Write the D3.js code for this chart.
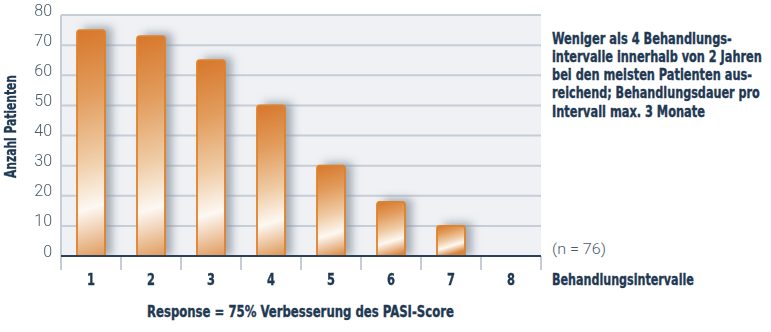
<!DOCTYPE html>
<html>
<head>
<meta charset="utf-8">
<script src="https://cdn.jsdelivr.net/npm/d3@7"></script>
<style>
  html, body { margin: 0; padding: 0; background: #ffffff; }
  svg { display: block; }
  .bold { font-family: "DejaVu Sans Condensed", "DejaVu Sans", sans-serif; font-weight: bold; fill: #1f3953; stroke: #1f3953; stroke-width: 0.35px; }
  .light { font-family: Roboto, "DejaVu Sans", sans-serif; font-weight: 300; fill: #4a5b6b; }
</style>
</head>
<body>
<svg id="chart" width="771" height="332"></svg>
<script>
// Number of patients per count of treatment intervals
const categories = ["1", "2", "3", "4", "5", "6", "7", "8"];
const patients = [75, 73, 65, 50, 30, 18, 10, 0];
const yTicks = [0, 10, 20, 30, 40, 50, 60, 70, 80];
const yTitle = "Anzahl Patienten";
const xTitle = "Response = 75% Verbesserung des PASI-Score";
const xSideLabel = "Behandlungsintervalle";
const sampleNote = "(n = 76)";
const noteLines = [
  "Weniger als 4 Behandlungs-",
  "intervalle innerhalb von 2 Jahren",
  "bei den meisten Patienten aus-",
  "reichend; Behandlungsdauer pro",
  "Intervall max. 3 Monate"
];
// set widths for the condensed captions
const noteWidths = [180, 210, 200, 208, 153];

const svg = d3.select("#chart");
const plot = { left: 61, right: 541, top: 15, bottom: 256 };

// squeeze a text horizontally to a given width; (x, y) is its anchor point
function condensed(parent, str, cls, size, x, y, width, angle = 0, anchor = "start") {
  const t = parent.append("text")
    .attr("class", cls)
    .attr("font-size", size)
    .attr("text-anchor", anchor)
    .text(str);
  const natural = t.node().getComputedTextLength();
  const k = width / natural;
  t.attr("transform", `translate(${x},${y}) rotate(${angle}) scale(${k},1)`);
  return t;
}

const x = d3.scaleBand()
  .domain(categories)
  .range([plot.left, plot.right])
  .paddingInner(32 / 60)
  .paddingOuter(16 / 60);

// boundaries between categories, for the tick marks under the axis
const xEdges = d3.scaleLinear().domain([0, categories.length]).range([plot.left, plot.right]);

const y = d3.scaleLinear().domain([0, 80]).range([plot.bottom, plot.top]);

const defs = svg.append("defs");

const blur = defs.append("filter").attr("id", "shade")
  .attr("x", "-50%").attr("y", "-20%").attr("width", "200%").attr("height", "140%");
blur.append("feGaussianBlur").attr("stdDeviation", 4.5);

// plot background
svg.append("rect")
  .attr("x", plot.left).attr("y", plot.top)
  .attr("width", plot.right - plot.left).attr("height", plot.bottom - plot.top)
  .attr("fill", "#eff1f4");

// horizontal grid
svg.append("g").selectAll("line")
  .data(yTicks.filter(d => d > 0))
  .join("line")
  .attr("x1", plot.left).attr("x2", plot.right)
  .attr("y1", d => y(d)).attr("y2", d => y(d))
  .attr("stroke", "#c6cdd6").attr("stroke-width", 2);

// left frame line
svg.append("line")
  .attr("x1", plot.left).attr("x2", plot.left)
  .attr("y1", plot.top).attr("y2", plot.bottom)
  .attr("stroke", "#c6cdd6").attr("stroke-width", 2);

const barData = categories.map((c, i) => ({ c, v: patients[i], i })).filter(d => d.v > 0);

// bar shadows
const shade = svg.append("g").attr("filter", "url(#shade)");
shade.selectAll("rect")
  .data(barData)
  .join("rect")
  .attr("x", d => x(d.c) + 7)
  .attr("y", d => y(d.v) - 3)
  .attr("width", x.bandwidth())
  .attr("height", d => y(0) - y(d.v) + 3)
  .attr("fill", "#838d9a")
  .attr("opacity", 0.72);

// bar gradients, one per bar, with a slanted light streak near each bar's foot
barData.forEach(d => {
  const x0 = x(d.c), y0 = y(d.v), y1 = y(0);
  const h = y1 - y0;
  const g = defs.append("linearGradient")
    .attr("id", "barFill" + d.i)
    .attr("gradientUnits", "userSpaceOnUse")
    .attr("x1", x0).attr("y1", y0)
    .attr("x2", x0 + 0.3 * h).attr("y2", y1);
  g.append("stop").attr("offset", 0).attr("stop-color", "#d7772b");
  g.append("stop").attr("offset", 0.28).attr("stop-color", "#e29d5e");
  g.append("stop").attr("offset", 0.54).attr("stop-color", "#efcca6");
  g.append("stop").attr("offset", 0.74).attr("stop-color", "#fdf8f2");
  g.append("stop").attr("offset", 1).attr("stop-color", "#d9863d");
});

svg.append("g").selectAll("rect")
  .data(barData)
  .join("rect")
  .attr("x", d => x(d.c))
  .attr("y", d => y(d.v))
  .attr("width", x.bandwidth())
  .attr("height", d => y(0) - y(d.v) + 3)
  .attr("rx", 3).attr("ry", 3)
  .attr("fill", d => "url(#barFill" + d.i + ")")
  .attr("stroke", "#e0822c")
  .attr("stroke-width", 1.8);

// white strip below the baseline hides the rounded bar feet
svg.append("rect")
  .attr("x", plot.left - 1).attr("y", plot.bottom + 1)
  .attr("width", plot.right - plot.left + 2).attr("height", 6)
  .attr("fill", "#ffffff");

// tick marks under the axis at category boundaries
svg.append("g").selectAll("line")
  .data(d3.range(categories.length + 1))
  .join("line")
  .attr("x1", d => xEdges(d)).attr("x2", d => xEdges(d))
  .attr("y1", plot.bottom).attr("y2", plot.bottom + 14)
  .attr("stroke", "#c6cdd6").attr("stroke-width", 2);

// baseline
svg.append("line")
  .attr("x1", plot.left).attr("x2", plot.right)
  .attr("y1", plot.bottom).attr("y2", plot.bottom)
  .attr("stroke", "#2b4258").attr("stroke-width", 2);

// y tick labels
svg.append("g").selectAll("text")
  .data(yTicks)
  .join("text")
  .attr("class", "light")
  .attr("x", 52)
  .attr("y", d => y(d) + 0.5)
  .attr("text-anchor", "end")
  .attr("font-size", 16)
  .text(d => d);

// x category labels
const xLabels = svg.append("g");
categories.forEach(c => {
  condensed(xLabels, c, "bold", 16, x(c) + x.bandwidth() / 2, 285, 8, 0, "middle");
});

condensed(svg, yTitle, "bold", 15, 15.5, 126.5, 103, -90, "middle");
condensed(svg, xTitle, "bold", 15.5, 147, 316.5, 307);
condensed(svg, xSideLabel, "bold", 16, 552, 285, 142);
condensed(svg, sampleNote, "light", 15, 552, 254, 54);

const note = svg.append("g");
noteLines.forEach((line, i) => {
  condensed(note, line, "bold", 15, 552, 43.5 + i * 18.3, noteWidths[i]);
});
</script>
</body>
</html>
